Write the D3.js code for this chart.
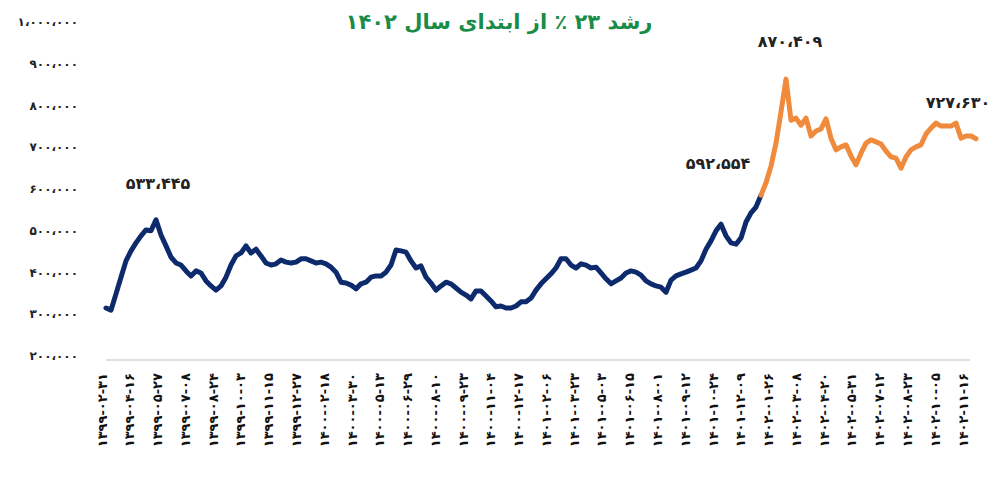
<!DOCTYPE html>
<html>
<head>
<meta charset="utf-8">
<script src="https://cdn.jsdelivr.net/npm/d3@7"></script>
<style>
  body { margin: 0; background: #fff; }
  svg text { font-family: "DejaVu Sans", sans-serif; font-weight: bold; }
</style>
</head>
<body>
<div id="chart"></div>
<script>
// Tick labels (Persian dates) along the x axis
const tickLabels = [
  "۱۳۹۹-۰۲-۳۱", "۱۳۹۹-۰۴-۱۶", "۱۳۹۹-۰۵-۲۷", "۱۳۹۹-۰۷-۰۸", "۱۳۹۹-۰۸-۲۴", "۱۳۹۹-۱۰-۰۳",
  "۱۳۹۹-۱۱-۱۵", "۱۳۹۹-۱۲-۲۷", "۱۴۰۰-۰۲-۱۸", "۱۴۰۰-۰۳-۳۰", "۱۴۰۰-۰۵-۱۳", "۱۴۰۰-۰۶-۲۹",
  "۱۴۰۰-۰۸-۱۰", "۱۴۰۰-۰۹-۲۳", "۱۴۰۰-۱۱-۰۴", "۱۴۰۰-۱۲-۱۷", "۱۴۰۱-۰۲-۰۶", "۱۴۰۱-۰۳-۲۳",
  "۱۴۰۱-۰۵-۰۳", "۱۴۰۱-۰۶-۱۵", "۱۴۰۱-۰۸-۰۱", "۱۴۰۱-۰۹-۱۲", "۱۴۰۱-۱۰-۲۴", "۱۴۰۱-۱۲-۰۹",
  "۱۴۰۲-۰۱-۲۶", "۱۴۰۲-۰۳-۰۸", "۱۴۰۲-۰۴-۲۰", "۱۴۰۲-۰۵-۳۱", "۱۴۰۲-۰۷-۱۲", "۱۴۰۲-۰۸-۲۳",
  "۱۴۰۲-۱۰-۰۵", "۱۴۰۲-۱۱-۱۶"
];

const yTicks = [200000, 300000, 400000, 500000, 600000, 700000, 800000, 900000, 1000000];

// index values, evenly spaced in time
const prices = [
  322000, 317000, 356000, 396000, 435000, 459000, 478000, 495000, 509000, 507000,
  533445, 497000, 471000, 444000, 430000, 425000, 411000, 399000, 411000, 406000,
  387000, 375000, 365000, 375000, 396000, 425000, 447000, 454000, 471000, 454000,
  463000, 447000, 430000, 425000, 428000, 437000, 432000, 430000, 432000, 440000,
  440000, 435000, 430000, 432000, 428000, 420000, 408000, 384000, 382000, 377000,
  368000, 380000, 384000, 396000, 399000, 399000, 408000, 425000, 461000, 459000,
  456000, 435000, 418000, 423000, 396000, 382000, 365000, 375000, 384000, 380000,
  370000, 360000, 353000, 344000, 363000, 363000, 351000, 339000, 325000, 327000,
  322000, 322000, 327000, 337000, 337000, 346000, 365000, 380000, 392000, 404000,
  418000, 440000, 440000, 425000, 418000, 428000, 425000, 418000, 420000, 406000,
  392000, 380000, 387000, 394000, 406000, 411000, 408000, 401000, 387000, 380000,
  375000, 372000, 360000, 389000, 399000, 404000, 408000, 413000, 418000, 435000,
  463000, 483000, 507000, 523000, 495000, 478000, 475000, 490000, 528000, 550000,
  564000, 592554, 622000, 662000, 717000, 792000, 870409, 772000, 777000, 760000,
  777000, 734000, 746000, 751000, 775000, 729000, 701000, 708000, 713000, 686000,
  665000, 693000, 717000, 725000, 720000, 715000, 698000, 684000, 681000, 657000,
  684000, 701000, 708000, 713000, 739000, 753000, 765000, 758000, 758000, 758000,
  765000, 729000, 734000, 734000, 727630
];

// first point of year 1402 (orange part)
const splitIndex = 131;

// annotated points (index into prices)
const annotatedIdx = [10, 131, 136, 174];
const annotationOffsets = [[2, -31], [-43, -26], [4, -32], [-18, -31]];

const titleText = "رشد ۲۳ ٪ از ابتدای سال ۱۴۰۲";

const width = 999, height = 485;
const faDigits = "۰۱۲۳۴۵۶۷۸۹";
const toFa = s => s.replace(/[0-9]/g, d => faDigits[+d]).replace(/,/g, "،");
const fmt = v => toFa(d3.format(",")(v));

const svg = d3.select("#chart").append("svg")
  .attr("width", width)
  .attr("height", height);

const x = d3.scaleLinear().domain([0, prices.length - 1]).range([106, 976]);
const xLabel = d3.scalePoint().domain(tickLabels).range([102, 963]);
const y = d3.scaleLinear().domain([200000, 1000000]).range([359, 25]);

// title
svg.append("text")
  .attr("x", 499)
  .attr("y", 29)
  .attr("text-anchor", "middle")
  .attr("direction", "rtl")
  .style("font-size", "21px")
  .style("fill", "#1a8c48")
  .text(titleText);

// y axis labels
svg.append("g")
  .selectAll("text")
  .data(yTicks)
  .enter().append("text")
  .attr("x", 78)
  .attr("y", d => y(d) - 3)
  .attr("dy", "0.35em")
  .attr("text-anchor", "end")
  .attr("direction", "ltr")
  .style("font-size", "12px")
  .style("fill", "#222")
  .text(d => fmt(d));

// baseline
svg.append("line")
  .attr("x1", 106).attr("x2", 970)
  .attr("y1", y(200000) + 1).attr("y2", y(200000) + 1)
  .attr("stroke", "#d4d4d4")
  .attr("stroke-width", 1.5);

// x axis labels, rotated
svg.append("g")
  .selectAll("text")
  .data(tickLabels)
  .enter().append("text")
  .attr("transform", d => `translate(${xLabel(d)},373) rotate(-90)`)
  .attr("dy", "0.35em")
  .attr("text-anchor", "end")
  .attr("direction", "ltr")
  .style("font-size", "13px")
  .style("letter-spacing", "1.5px")
  .style("fill", "#111")
  .text(d => d);

// line, split in two colours at the start of 1402
const pts = prices.map((v, i) => ({ v, i }));
const lineXY = d3.line().x(d => x(d.i)).y(d => y(d.v));

svg.append("path")
  .datum(pts.slice(0, splitIndex + 1))
  .attr("fill", "none")
  .attr("stroke", "#0c2a6c")
  .attr("stroke-width", 5)
  .attr("stroke-linejoin", "round")
  .attr("stroke-linecap", "round")
  .attr("d", lineXY);

svg.append("path")
  .datum(pts.slice(splitIndex))
  .attr("fill", "none")
  .attr("stroke", "#f08a3c")
  .attr("stroke-width", 5)
  .attr("stroke-linejoin", "round")
  .attr("stroke-linecap", "round")
  .attr("d", lineXY);

// value annotations
svg.append("g")
  .selectAll("text")
  .data(annotatedIdx)
  .enter().append("text")
  .attr("x", (d, k) => x(d) + annotationOffsets[k][0])
  .attr("y", (d, k) => y(prices[d]) + annotationOffsets[k][1])
  .attr("text-anchor", "middle")
  .attr("direction", "ltr")
  .style("font-size", "16px")
  .style("fill", "#222")
  .text(d => fmt(prices[d]));
</script>
</body>
</html>
